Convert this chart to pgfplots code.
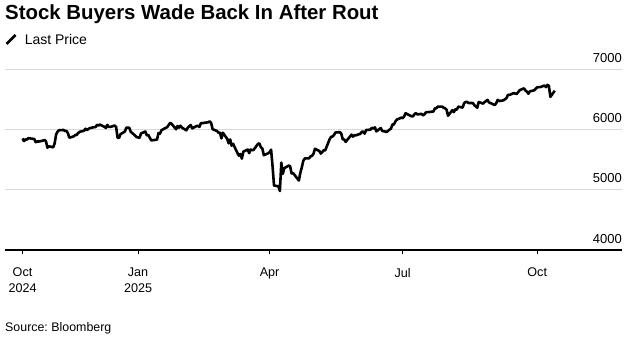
\documentclass[border=0pt]{standalone}
\usepackage{fontspec}
\setmainfont{Liberation Sans}
\usepackage{pgfplots}
\pgfplotsset{compat=1.18}
\usepackage{pgfplotstable}
\definecolor{gridc}{HTML}{D9D9D9}
\frenchspacing

\pgfplotstableread{
d v
-79 5859
-78 5815
-77 5843
-76 5841
-75 5865
-72 5853
-71 5851
-70 5797
-69 5809
-68 5808
-65 5823
-64 5833
-63 5813
-62 5705
-61 5728
-58 5712
-57 5782
-56 5929
-55 5973
-54 5996
-51 6001
-50 5984
-49 5985
-48 5949
-47 5871
-44 5894
-43 5917
-42 5917
-41 5949
-40 5969
-37 5987
-36 6021
-35 5999
-33 6032
-30 6047
-29 6050
-28 6087
-27 6075
-26 6090
-23 6053
-22 6034
-21 6085
-20 6051
-19 6051
-16 6074
-15 6051
-14 5872
-13 5867
-12 5931
-9 5974
-8 6040
-6 6037
-5 5971
-2 5907
-1 5882
1 5869
2 5942
5 5975
6 5909
7 5918
9 5827
12 5836
13 5843
14 5950
15 5937
16 5997
20 6049
21 6086
22 6119
23 6101
26 6012
27 6068
28 6039
29 6071
30 6041
33 5995
34 6038
35 6061
36 6083
37 6026
40 6066
41 6068
42 6052
43 6115
44 6115
48 6129
49 6144
50 6117
51 6013
54 5983
55 5955
56 5956
57 5861
58 5955
61 5850
62 5778
63 5843
64 5739
65 5770
68 5615
69 5572
70 5599
71 5522
72 5639
75 5675
76 5615
77 5675
78 5663
79 5668
82 5768
83 5777
84 5712
85 5693
86 5581
89 5612
90 5633
91 5671
92 5397
93 5074
96 5062
97 4983
98 5457
99 5268
100 5363
103 5406
104 5397
105 5276
106 5283
110 5158
111 5288
112 5376
113 5485
114 5525
117 5529
118 5561
119 5569
120 5604
121 5687
124 5650
125 5607
126 5631
127 5664
128 5660
131 5844
132 5886
133 5892
134 5917
135 5958
138 5964
139 5940
140 5845
141 5842
142 5802
146 5922
147 5889
148 5912
149 5912
152 5936
153 5970
154 5971
155 5939
156 6000
159 6006
160 6039
161 6022
162 6045
163 5977
166 6033
167 5983
168 5981
170 5967
173 6025
174 6092
175 6092
176 6141
177 6173
180 6205
181 6198
182 6227
183 6279
187 6230
188 6226
189 6263
190 6280
191 6260
194 6269
195 6244
196 6264
197 6297
198 6297
201 6305
202 6309
203 6359
204 6363
205 6389
208 6390
209 6371
210 6362
211 6339
212 6238
215 6330
216 6299
217 6345
218 6340
219 6389
222 6374
223 6446
224 6466
225 6469
226 6450
229 6449
230 6412
231 6396
232 6370
233 6467
236 6440
237 6466
238 6481
239 6502
240 6460
244 6416
245 6448
246 6502
247 6482
250 6495
251 6513
252 6532
253 6587
254 6584
257 6615
258 6607
259 6600
260 6632
261 6664
264 6694
265 6657
266 6638
267 6605
268 6644
271 6662
272 6688
273 6711
274 6715
275 6715
278 6740
279 6714
280 6753
281 6735
282 6552
285 6654
}\spx

\begin{document}
\begin{tikzpicture}
\useasboundingbox (0,0) rectangle (637bp,344bp);
\node[anchor=base west, inner sep=0pt, font=\fontsize{20.4bp}{24bp}\selectfont\bfseries] at (5bp,324.5bp) {Stock Buyers Wade Back In After Rout};
\node[anchor=base west, inner sep=0pt, font=\fontsize{12.4bp}{15bp}\selectfont] at (5bp,13bp) {Source: Bloomberg};
\begin{axis}[
  at={(5bp,94bp)}, anchor=south west,
  scale only axis, width=617bp, height=180bp,
  xmin=-91, xmax=331, ymin=4000, ymax=7000,
  axis x line=bottom, axis y line=right,
  x axis line style={-, black, line width=1.2bp},
  y axis line style={draw=none},
  xtick={-79,0,90,181,273},
  xticklabels={{Oct\\2024},{Jan\\2025},Apr,Jul,Oct},
  xticklabel style={align=center, anchor=north, inner sep=0pt, yshift=-14bp, font=\fontsize{12.6bp}{15.3bp}\selectfont},
  xtick style={black, line width=0.8bp},
  tick align=outside, major tick length=4bp,
  ytick={4000,5000,6000,7000},
  ytick style={draw=none},
  yticklabel style={anchor=base east, inner sep=0pt, xshift=-4bp, yshift=7bp, font=\fontsize{13bp}{15bp}\selectfont},
  /pgf/number format/assume math mode=true,
  /pgf/number format/1000 sep={},
  ymajorgrids, grid style={gridc, line width=1bp},
  clip=false,
  legend style={at={(0,1)}, anchor=south west, xshift=0bp, yshift=22bp, draw=none, fill=none, inner sep=0pt, font=\fontsize{14bp}{16bp}\selectfont,
    /tikz/every odd column/.append style={column sep=6bp}},
  legend cell align=left,
  legend image code/.code={\draw[line width=2.6bp] (0bp,-4bp) -- (9bp,5bp);},
]
\addplot[black, line width=2.6bp, line join=round] table[x=d,y=v]{\spx};
\addlegendentry{Last Price}
\end{axis}
\end{tikzpicture}
\end{document}
